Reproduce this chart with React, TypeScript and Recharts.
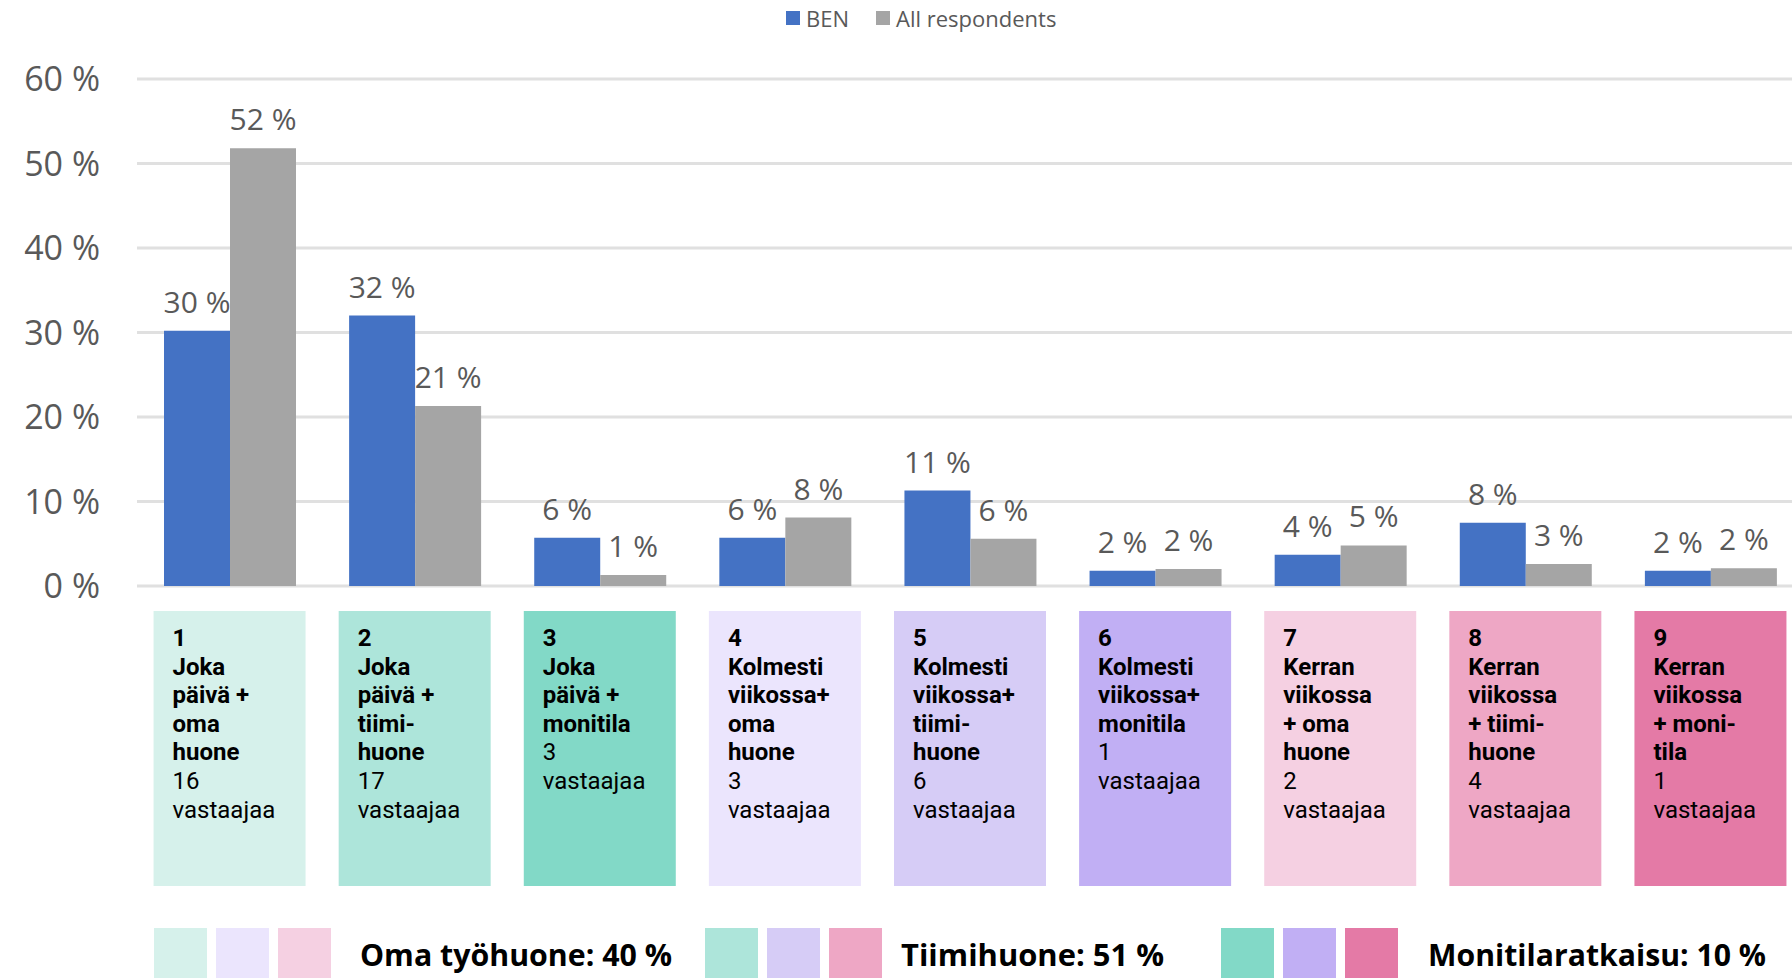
import React from "react";
import { BarChart, Bar, XAxis, YAxis, CartesianGrid, Legend, LabelList } from "recharts";

// kategoriat (laatikon numero)
const categories = ["1", "2", "3", "4", "5", "6", "7", "8", "9"];

const titleLines = [
  ["Joka", "päivä +", "oma", "huone"],
  ["Joka", "päivä +", "tiimi-", "huone"],
  ["Joka", "päivä +", "monitila"],
  ["Kolmesti", "viikossa+", "oma", "huone"],
  ["Kolmesti", "viikossa+", "tiimi-", "huone"],
  ["Kolmesti", "viikossa+", "monitila"],
  ["Kerran", "viikossa", "+ oma", "huone"],
  ["Kerran", "viikossa", "+ tiimi-", "huone"],
  ["Kerran", "viikossa", "+ moni-", "tila"],
];

const respondents = [16, 17, 3, 3, 6, 1, 2, 4, 1];

const benValues = [30.2, 32.0, 5.7, 5.7, 11.3, 1.8, 3.7, 7.5, 1.8];
const allValues = [51.8, 21.3, 1.3, 8.1, 5.6, 2.0, 4.8, 2.6, 2.1];

const boxColors = [
  "#D6F1EB", "#ADE5DA", "#82D9C7",
  "#EBE5FD", "#D6CCF6", "#C1AFF4",
  "#F5D0E2", "#EEA7C5", "#E47AA6",
];

const yTicks = [0, 10, 20, 30, 40, 50, 60];

const seriesOrder = ["BEN", "All respondents"];

const groupLabels = ["Oma työhuone: 40 %", "Tiimihuone: 51 %", "Monitilaratkaisu: 10 %"];
const groupMembers = [
  [0, 3, 6],
  [1, 4, 7],
  [2, 5, 8],
];

const data = categories.map((c, i) => ({ id: c, ben: benValues[i], all: allValues[i] }));

const FONT = "'Open Sans', 'Noto Sans', sans-serif";
const BOX_FONT = "Roboto, 'Open Sans', sans-serif";
const GREY_TEXT = "#595959";

function BoxTick(props: any) {
  const { x, y, payload } = props;
  const i = categories.indexOf(String(payload.value));
  if (i < 0) return null;
  const left = x - 76;
  const top = y + 25;
  const lines = [
    { t: categories[i], b: true },
    ...titleLines[i].map((t) => ({ t, b: true })),
    { t: String(respondents[i]), b: false },
    { t: "vastaajaa", b: false },
  ];
  return (
    <g>
      <rect x={left} y={top} width={152} height={275} fill={boxColors[i]} />
      {lines.map((l, k) => (
        <text
          key={k}
          x={left + 19}
          y={top + 35 + k * 28.6}
          fontSize={24}
          fontWeight={l.b ? 700 : 400}
          fill="#000"
          fontFamily={BOX_FONT}
        >
          {l.t}
        </text>
      ))}
    </g>
  );
}

function TopLegend(props: any) {
  const items = [...(props.payload || [])].sort(
    (a: any, b: any) => seriesOrder.indexOf(a.value) - seriesOrder.indexOf(b.value)
  );
  return (
    <div style={{ display: "flex", alignItems: "center", fontFamily: FONT, fontSize: 22, color: GREY_TEXT }}>
      {items.map((p: any, k: number) => (
        <div key={k} style={{ display: "flex", alignItems: "center", marginRight: 27 }}>
          <span style={{ width: 14, height: 14, background: p.color, display: "inline-block", marginRight: 6 }} />
          <span>{p.value}</span>
        </div>
      ))}
    </div>
  );
}

const groupX = [154, 705, 1221];
const textOffset = [206, 196, 207];
const textWidth = [312, 263, 338];

function GroupLegend() {
  return (
    <svg width={1792} height={978} style={{ position: "absolute", left: 0, top: 0, pointerEvents: "none" }}>
      {groupMembers.map((members, g) => (
        <g key={g}>
          {members.map((m, k) => (
            <rect key={k} x={groupX[g] + k * 62} y={928} width={53} height={52} fill={boxColors[m]} />
          ))}
          <text
            x={groupX[g] + textOffset[g]}
            y={966}
            fontSize={31}
            fontWeight={700}
            fill="#000"
            fontFamily={FONT}
            textLength={textWidth[g]}
            lengthAdjust="spacingAndGlyphs"
          >
            {groupLabels[g]}
          </text>
        </g>
      ))}
    </svg>
  );
}

export default function App() {
  return (
    <div
      style={{
        position: "fixed",
        left: 0,
        top: 0,
        width: 1792,
        height: 978,
        overflow: "hidden",
        background: "#fff",
      }}
    >
      <BarChart
        width={1803}
        height={978}
        data={data}
        margin={{ top: 79, right: 0, bottom: 0, left: 0 }}
        barGap={0}
        barSize={66}
      >
        <CartesianGrid vertical={false} stroke="#E0E0E0" strokeWidth={3} />
        <XAxis
          dataKey="id"
          axisLine={false}
          tickLine={false}
          tickSize={0}
          tickMargin={0}
          height={392}
          interval={0}
          tick={<BoxTick />}
        />
        <YAxis
          width={137}
          domain={[0, 60]}
          ticks={yTicks}
          axisLine={false}
          tickLine={false}
          tickSize={0}
          tickMargin={37}
          tickFormatter={(v) => `${v} %`}
          tick={{ fill: GREY_TEXT, fontSize: 34, fontFamily: FONT }}
        />
        <Legend
          layout="horizontal"
          verticalAlign="middle"
          align="center"
          wrapperStyle={{ top: 3, left: 786, width: 360, height: 30 }}
          content={<TopLegend />}
        />
        <Bar dataKey="ben" name="BEN" fill="#4472C4" isAnimationActive={false}>
          <LabelList
            dataKey="ben"
            position="top"
            offset={18}
            formatter={(v: any) => `${Math.round(Number(v))} %`}
            fill={GREY_TEXT}
            fontSize={30}
            fontFamily={FONT}
          />
        </Bar>
        <Bar dataKey="all" name="All respondents" fill="#A5A5A5" isAnimationActive={false}>
          <LabelList
            dataKey="all"
            position="top"
            offset={18}
            formatter={(v: any) => `${Math.round(Number(v))} %`}
            fill={GREY_TEXT}
            fontSize={30}
            fontFamily={FONT}
          />
        </Bar>
      </BarChart>
      <GroupLegend />
    </div>
  );
}
